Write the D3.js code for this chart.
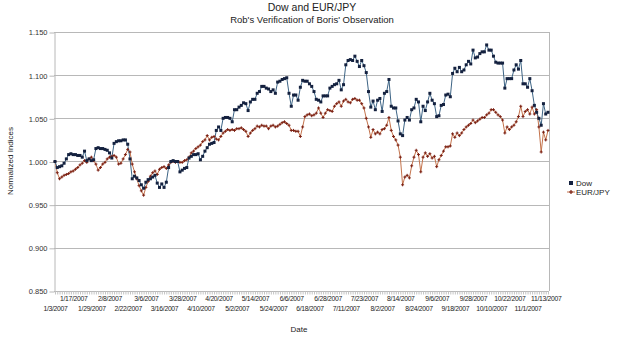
<!DOCTYPE html>
<html>
<head>
<meta charset="utf-8">
<script src="https://cdn.jsdelivr.net/npm/d3@7"></script>
<style>
  body { margin: 0; background: #fff; }
  text { font-family: "Liberation Sans", Arial, sans-serif; fill: #222; }
  .tick text { font-size: 7.5px; }
  .xlab .tick text { font-size: 6.8px; letter-spacing: -0.3px; }
</style>
</head>
<body>
<div id="viz"></div>
<script>
// Normalized values (first day = 1.000), one per trading day
var dow = [
  1.000,0.993,0.994,0.995,0.998,1.003,1.008,1.009,1.008,1.008,
  1.007,1.007,1.005,1.012,1.001,1.003,1.001,1.002,1.015,1.016,
  1.015,1.015,1.014,1.013,1.010,1.004,1.021,1.023,1.024,1.024,
  1.025,1.025,1.020,1.003,0.980,0.983,0.981,0.978,0.973,0.969,
  0.976,0.979,0.980,0.982,0.984,0.975,0.970,0.974,0.970,0.976,
  0.993,1.000,1.001,1.000,1.000,0.988,0.990,0.992,0.993,1.004,
  1.006,1.008,1.008,1.009,1.002,1.006,1.012,1.016,1.020,1.021,
  1.022,1.036,1.040,1.036,1.050,1.051,1.051,1.050,1.046,1.060,
  1.060,1.063,1.065,1.068,1.067,1.059,1.069,1.072,1.072,1.079,
  1.081,1.087,1.087,1.085,1.084,1.081,1.083,1.079,1.092,1.093,
  1.095,1.096,1.097,1.079,1.064,1.077,1.077,1.071,1.086,1.094,
  1.093,1.093,1.090,1.087,1.081,1.072,1.071,1.069,1.076,1.076,
  1.076,1.085,1.087,1.089,1.090,1.094,1.083,1.089,1.112,1.117,
  1.118,1.117,1.122,1.116,1.110,1.117,1.111,1.103,1.081,1.063,
  1.070,1.060,1.071,1.073,1.058,1.079,1.081,1.095,1.064,1.062,
  1.062,1.047,1.032,1.030,1.048,1.051,1.048,1.060,1.062,1.072,
  1.069,1.046,1.064,1.059,1.069,1.079,1.071,1.067,1.052,1.053,
  1.065,1.066,1.077,1.078,1.075,1.102,1.108,1.104,1.109,1.104,
  1.106,1.112,1.116,1.113,1.129,1.120,1.121,1.125,1.127,1.127,
  1.135,1.129,1.129,1.122,1.115,1.114,1.114,1.114,1.085,1.096,
  1.096,1.096,1.106,1.112,1.107,1.117,1.090,1.090,1.086,1.096,
  1.082,1.065,1.057,1.050,1.042,1.067,1.055,1.057
];

var eurjpy = [
  1.000,0.987,0.980,0.982,0.984,0.985,0.986,0.988,0.989,0.991,
  0.993,0.996,0.998,1.001,0.999,1.003,1.005,1.001,0.997,0.990,
  0.993,0.997,0.999,1.003,1.005,1.006,1.007,1.005,0.997,0.998,
  1.003,1.008,1.014,1.011,0.997,0.988,0.980,0.972,0.966,0.961,
  0.970,0.977,0.983,0.987,0.989,0.985,0.991,0.993,0.994,0.992,
  0.996,0.999,1.000,0.999,1.000,0.999,0.999,1.001,1.002,1.005,
  1.010,1.012,1.015,1.017,1.019,1.023,1.025,1.030,1.025,1.028,
  1.029,1.026,1.025,1.029,1.033,1.035,1.037,1.036,1.037,1.036,
  1.038,1.038,1.039,1.037,1.035,1.029,1.033,1.036,1.038,1.041,
  1.040,1.042,1.041,1.041,1.038,1.041,1.042,1.040,1.041,1.043,
  1.045,1.046,1.044,1.042,1.036,1.036,1.035,1.035,1.029,1.040,
  1.052,1.054,1.055,1.053,1.054,1.056,1.062,1.056,1.051,1.056,
  1.060,1.059,1.058,1.064,1.067,1.069,1.064,1.070,1.072,1.069,
  1.068,1.072,1.073,1.071,1.071,1.067,1.062,1.050,1.040,1.028,
  1.037,1.032,1.034,1.032,1.037,1.038,1.042,1.051,1.036,1.029,
  1.025,1.019,1.005,0.973,0.982,0.984,0.981,0.995,1.005,1.013,
  1.008,0.988,1.005,1.010,1.006,1.009,1.004,1.006,0.994,1.002,
  1.007,1.012,1.017,1.017,1.018,1.032,1.028,1.033,1.030,1.033,
  1.037,1.040,1.042,1.044,1.048,1.045,1.047,1.049,1.051,1.051,
  1.054,1.056,1.060,1.060,1.057,1.054,1.052,1.048,1.033,1.040,
  1.037,1.040,1.042,1.046,1.052,1.064,1.052,1.058,1.060,1.055,
  1.063,1.055,1.060,1.040,1.011,1.034,1.025,1.036
];

// category labels, one on every 8th trading day
var dateLabels = [
  "1/3/2007","1/17/2007","1/29/2007","2/8/2007","2/22/2007","3/6/2007","3/16/2007",
  "3/28/2007","4/10/2007","4/20/2007","5/2/2007","5/14/2007","5/24/2007","6/6/2007",
  "6/18/2007","6/28/2007","7/11/2007","7/23/2007","8/2/2007","8/14/2007","8/24/2007",
  "9/6/2007","9/18/2007","9/28/2007","10/10/2007","10/22/2007","11/1/2007","11/13/2007"
];
var labelStep = 8;
var yTicks = [0.85, 0.90, 0.95, 1.00, 1.05, 1.10, 1.15];

var W = 625, H = 360;
var plotL = 54, plotR = 549, plotT = 32, plotB = 291;

var svg = d3.select("#viz").append("svg")
  .attr("width", W).attr("height", H);

var x = d3.scaleLinear().domain([0, dow.length - 1]).range([plotL + 1, plotR - 1]);
var y = d3.scaleLinear().domain([0.85, 1.15]).range([plotB, plotT]);

// gridlines
svg.append("g").selectAll("line")
  .data(yTicks.slice(1))
  .enter().append("line")
  .attr("x1", plotL).attr("x2", plotR)
  .attr("y1", function(d) { return Math.round(y(d)) + 0.5; })
  .attr("y2", function(d) { return Math.round(y(d)) + 0.5; })
  .attr("stroke", "#b8b8b8");

// right border
svg.append("line")
  .attr("x1", plotR + 0.5).attr("x2", plotR + 0.5)
  .attr("y1", plotT).attr("y2", plotB)
  .attr("stroke", "#b8b8b8");

// y axis
var yAxis = svg.append("g")
  .attr("transform", "translate(" + (plotL + 0.5) + ",0.5)")
  .call(d3.axisLeft(y).tickValues(yTicks).tickFormat(d3.format(".3f")).tickSize(5).tickSizeOuter(0));
yAxis.selectAll("path, line").attr("stroke", "#b8b8b8");
yAxis.selectAll("text").attr("x", -7).style("fill", "#333");

// x axis: small tick on every day
var xAxis = svg.append("g")
  .attr("transform", "translate(0," + (plotB + 0.5) + ")")
  .call(d3.axisBottom(x).tickValues(d3.range(dow.length)).tickSize(3).tickFormat("").tickSizeOuter(0));
xAxis.select(".domain").attr("stroke", "#b8b8b8").attr("d", "M" + plotL + ",0H" + plotR);
xAxis.selectAll("line").attr("stroke", "#c4c4c4");

// x labels, staggered on two rows
var xLab = svg.append("g")
  .attr("class", "xlab")
  .attr("transform", "translate(0," + plotB + ")")
  .call(d3.axisBottom(x)
    .tickValues(dateLabels.map(function(d, i) { return i * labelStep; }))
    .tickFormat(function(d) { return dateLabels[d / labelStep]; })
    .tickSize(0));
xLab.select(".domain").remove();
xLab.selectAll("text")
  .attr("y", function(d) { return (d / labelStep) % 2 ? 5 : 15; })
  .style("fill", "#222");

// axis titles
svg.append("text")
  .attr("transform", "translate(13,161) rotate(-90)")
  .attr("text-anchor", "middle")
  .style("font-size", "8px")
  .text("Normalized Indices");

svg.append("text")
  .attr("x", 299).attr("y", 332)
  .attr("text-anchor", "middle")
  .style("font-size", "8px")
  .text("Date");

svg.append("text")
  .attr("x", 312).attr("y", 11)
  .attr("text-anchor", "middle")
  .style("font-size", "10.5px")
  .text("Dow and EUR/JPY");

svg.append("text")
  .attr("x", 312).attr("y", 23)
  .attr("text-anchor", "middle")
  .style("font-size", "9.5px")
  .text("Rob's Verification of Boris' Observation");

// series
var line = d3.line()
  .x(function(d, i) { return x(i); })
  .y(function(d) { return y(d); });

svg.append("path").datum(eurjpy)
  .attr("d", line)
  .attr("fill", "none")
  .attr("stroke", "#c4734c")
  .attr("stroke-width", 1);

svg.append("path").datum(dow)
  .attr("d", line)
  .attr("fill", "none")
  .attr("stroke", "#3d6485")
  .attr("stroke-width", 1);

svg.append("g").selectAll("path")
  .data(eurjpy)
  .enter().append("path")
  .attr("d", function(d, i) {
    var cx = x(i), cy = y(d);
    return "M" + (cx - 1.5) + "," + cy + "H" + (cx + 1.5) + "M" + cx + "," + (cy - 1.5) + "V" + (cy + 1.5);
  })
  .attr("stroke", "#7a1f12")
  .attr("stroke-width", 1);

svg.append("g").selectAll("rect")
  .data(dow)
  .enter().append("rect")
  .attr("x", function(d, i) { return x(i) - 1.5; })
  .attr("y", function(d) { return y(d) - 1.5; })
  .attr("width", 3).attr("height", 3)
  .attr("fill", "#14213f");

// legend
var legend = [
  {name: "Dow", color: "#14213f", sym: "square"},
  {name: "EUR/JPY", color: "#7a1f12", sym: "cross"}
];
var lg = svg.append("g").attr("transform", "translate(571,183)");
legend.forEach(function(l, i) {
  var g = lg.append("g").attr("transform", "translate(0," + (i * 9) + ")");
  if (l.sym == "square") {
    g.append("rect").attr("x", -2).attr("y", -2).attr("width", 4).attr("height", 4).attr("fill", l.color);
  } else {
    g.append("line").attr("x1", -4).attr("x2", 4).attr("y1", 0).attr("y2", 0).attr("stroke", "#c4734c");
    g.append("path").attr("d", "M-2,0H2M0,-2V2").attr("stroke", l.color).attr("stroke-width", 1.2);
  }
  g.append("text").attr("x", 5).attr("y", 3).style("font-size", "8px").text(l.name);
});
</script>
</body>
</html>
